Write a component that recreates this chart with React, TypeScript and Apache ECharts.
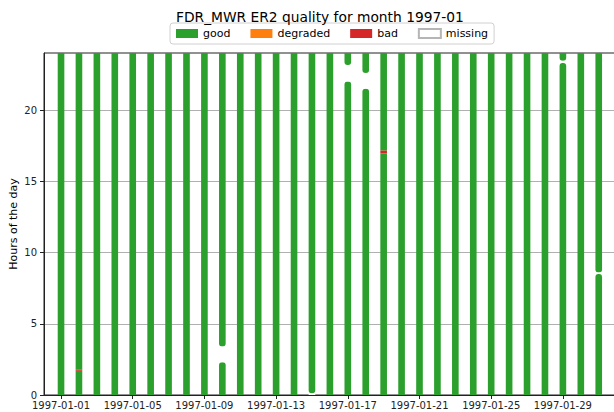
import React, { useEffect, useRef } from "react";
import * as echarts from "echarts";

const TITLE = "FDR_MWR ER2 quality for month 1997-01";
const MONTH = "1997-01";
const DAYS = [1, 2, 3, 4, 5, 6, 7, 8, 9, 10, 11, 12, 13, 14, 15, 16, 17, 18, 19, 20, 21, 22, 23, 24, 25, 26, 27, 28, 29, 30, 31];
const X_TICK_DAYS = [1, 5, 9, 13, 17, 21, 25, 29];
const Y_TICKS = [0, 5, 10, 15, 20];
// [day, startHour, endHour]
const MISSING = [
  [10, 2.3, 3.4],
  [15, 0, 0.12],
  [17, 22.0, 23.15],
  [18, 21.5, 22.6],
  [29, 23.3, 23.45],
  [31, 8.5, 8.6],
];
const BAD = [
  [2, 1.7, 1.77],
  [19, 16.95, 17.15],
];
const DEGRADED: number[][] = [];

const COLORS = { good: "#2ca02c", degraded: "#ff7f0e", bad: "#d62728", missing: "#ffffff" };
const BAR_W = 0.37;
const FONT = "DejaVu Sans";

function buildGood() {
  const out: number[][] = [];
  for (const d of DAYS) {
    const cuts = [...MISSING, ...BAD, ...DEGRADED].filter((s) => s[0] === d).sort((a, b) => a[1] - b[1]);
    let cur = 0;
    for (const c of cuts) {
      if (c[1] > cur) out.push([d, cur, c[1]]);
      cur = Math.max(cur, c[2]);
    }
    if (cur < 24) out.push([d, cur, 24]);
  }
  return out;
}

function touchesMissing(day: number, h: number, side: "start" | "end") {
  return MISSING.some((m) => m[0] === day && Math.abs((side === "start" ? m[2] : m[1]) - h) < 1e-6);
}

function makeRender(color: string, rounded: boolean) {
  return (params: any, api: any) => {
    const day = api.value(0);
    const s = api.value(1);
    const e = api.value(2);
    const top = api.coord([day, e]);
    const bot = api.coord([day, s]);
    const w = api.size([BAR_W, 0])[0];
    let rTop = 0;
    let rBot = 0;
    if (rounded) {
      if (touchesMissing(day, e, "end")) rTop = 3;
      if (touchesMissing(day, s, "start")) rBot = 3;
    }
    return {
      type: "rect",
      shape: {
        x: top[0] - w / 2,
        y: top[1],
        width: w,
        height: Math.max(bot[1] - top[1], 1),
        r: [rTop, rTop, rBot, rBot],
      },
      style: { fill: color },
    };
  };
}

export default function App() {
  const ref = useRef<HTMLDivElement>(null);
  useEffect(() => {
    if (!ref.current) return;
    const chart = echarts.init(ref.current, null, { renderer: "svg" });
    const good = buildGood();
    chart.setOption({
      animation: false,
      backgroundColor: "#ffffff",
      title: {
        text: TITLE,
        left: 171,
        top: 5,
        textStyle: { fontFamily: FONT, fontSize: 13.8, fontWeight: "normal", color: "#000" },
      },
      legend: {
        top: 23,
        left: 170,
        icon: "rect",
        itemWidth: 22,
        itemHeight: 9,
        itemGap: 20,
        padding: [5, 6],
        borderColor: "#d0d0d0",
        borderWidth: 1,
        borderRadius: 3,
        textStyle: { fontFamily: FONT, fontSize: 11, color: "#000" },
        data: ["good", "degraded", "bad", "missing"],
      },
      grid: {
        left: 44,
        top: 53,
        width: 587,
        height: 342,
        outerBoundsMode: "none",
        containLabel: false,
        show: true,
        borderColor: "#222",
        borderWidth: 1,
      },
      xAxis: {
        type: "value",
        min: 0.05,
        max: 32.8,
        splitLine: { show: false },
        axisLine: { lineStyle: { color: "#222" } },
        axisTick: { show: true, length: 4, lineStyle: { color: "#222" }, customValues: X_TICK_DAYS },
        axisLabel: {
          customValues: X_TICK_DAYS,
          formatter: (v: number) => `${MONTH}-${String(Math.round(v)).padStart(2, "0")}`,
          fontFamily: FONT,
          fontSize: 10,
          color: "#222",
          margin: 5,
        },
      },
      yAxis: {
        type: "value",
        min: 0,
        max: 24,
        name: "Hours of the day",
        nameLocation: "middle",
        nameRotate: 90,
        nameGap: 25,
        nameMoveOverlap: false,
        nameTextStyle: { fontFamily: FONT, fontSize: 11, color: "#000" },
        axisLine: { show: true, lineStyle: { color: "#222" } },
        axisTick: { show: true, length: 4, lineStyle: { color: "#222" }, customValues: Y_TICKS },
        axisLabel: { customValues: Y_TICKS, fontFamily: FONT, fontSize: 10, color: "#222", margin: 7 },
        splitLine: { show: true, lineStyle: { color: "#b0b0b0", width: 1 } },
      },
      series: [
        {
          name: "good",
          type: "custom",
          renderItem: makeRender(COLORS.good, true),
          encode: { x: 0, y: [1, 2] },
          itemStyle: { color: COLORS.good },
          data: good,
        },
        {
          name: "degraded",
          type: "custom",
          renderItem: makeRender(COLORS.degraded, false),
          encode: { x: 0, y: [1, 2] },
          itemStyle: { color: COLORS.degraded },
          data: DEGRADED,
        },
        {
          name: "bad",
          type: "custom",
          renderItem: makeRender(COLORS.bad, false),
          encode: { x: 0, y: [1, 2] },
          itemStyle: { color: COLORS.bad },
          data: BAD,
        },
        {
          name: "missing",
          type: "custom",
          renderItem: makeRender(COLORS.missing, false),
          encode: { x: 0, y: [1, 2] },
          itemStyle: { color: COLORS.missing, borderColor: "#b5b5b5", borderWidth: 0.8 },
          data: MISSING,
        },
      ],
    });
    return () => chart.dispose();
  }, []);
  return (
    <div
      ref={ref}
      style={{ position: "fixed", left: 0, top: 0, width: 614, height: 412, background: "#fff" }}
    />
  );
}
